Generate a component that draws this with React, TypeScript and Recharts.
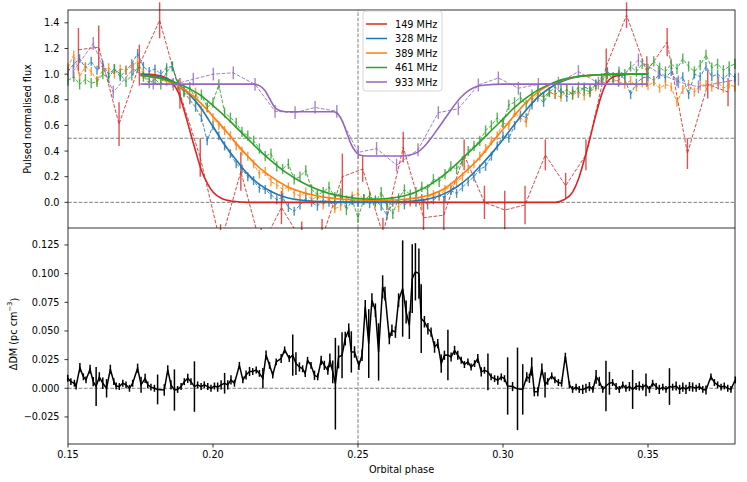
import { ComposedChart, Line, XAxis, YAxis, ReferenceLine, ErrorBar } from 'recharts';

// orbital phase grid of the 328 / 389 / 461 MHz profiles
const phaseGrid = [
  0.150, 0.152, 0.154, 0.156, 0.158, 0.160, 0.162, 0.164, 0.166, 0.168,
  0.170, 0.172, 0.174, 0.176, 0.178, 0.180, 0.182, 0.184, 0.186, 0.188,
  0.190, 0.192, 0.194, 0.196, 0.198, 0.200, 0.202, 0.204, 0.206, 0.208,
  0.210, 0.212, 0.214, 0.216, 0.218, 0.220, 0.222, 0.224, 0.226, 0.228,
  0.230, 0.232, 0.234, 0.236, 0.238, 0.240, 0.242, 0.244, 0.246, 0.248,
  0.250, 0.252, 0.254, 0.256, 0.258, 0.260, 0.262, 0.264, 0.266, 0.268,
  0.270, 0.272, 0.274, 0.276, 0.278, 0.280, 0.282, 0.284, 0.286, 0.288,
  0.290, 0.292, 0.294, 0.296, 0.298, 0.300, 0.302, 0.304, 0.306, 0.308,
  0.310, 0.312, 0.314, 0.316, 0.318, 0.320, 0.322, 0.324, 0.326, 0.328,
  0.330, 0.332, 0.334, 0.336, 0.338, 0.340, 0.342, 0.344, 0.346, 0.348,
  0.350, 0.352, 0.354, 0.356, 0.358, 0.360, 0.362, 0.364, 0.366, 0.368,
  0.370, 0.372, 0.374, 0.376, 0.378, 0.380,
];

const flux328 = [
  1.02, 1.08, 1.12, 1.05, 1.10, 1.03, 1.07, 1.00, 1.04, 0.98,
  1.03, 1.08, 1.16, 1.06, 1.02, 1.04, 1.00, 1.05, 1.06, 0.92,
  0.86, 0.80, 0.74, 0.66, 0.48, 0.60, 0.52, 0.44, 0.38, 0.30,
  0.26, 0.20, 0.17, 0.11, 0.10, 0.06, 0.02, 0.04, -0.04, -0.07,
  -0.02, 0.03, 0.00, -0.03, 0.02, 0.00, -0.02, 0.01, -0.01, 0.02,
  0.00, 0.03, -0.01, 0.02, -0.03, -0.10, 0.00, 0.02, -0.02, 0.01,
  0.00, 0.03, -0.02, 0.02, 0.05, 0.04, 0.09, 0.07, 0.12, 0.16,
  0.20, 0.26, 0.28, 0.36, 0.44, 0.52, 0.50, 0.60, 0.68, 0.66,
  0.76, 0.82, 0.78, 0.86, 0.84, 0.88, 0.82, 0.87, 0.85, 0.90,
  0.88, 0.92, 0.97, 1.02, 0.98, 1.00, 0.96, 0.84, 0.93, 0.97,
  0.98, 0.95, 1.00, 0.97, 1.02, 0.94, 0.98, 0.84, 1.00, 0.98,
  1.06, 0.98, 1.00, 0.96, 1.01, 0.97,
];

const flux389 = [
  1.05, 1.15, 0.98, 1.06, 1.02, 0.95, 1.03, 1.05, 1.00, 1.04,
  1.03, 1.06, 1.10, 1.00, 0.97, 0.99, 0.96, 0.94, 0.93, 0.90,
  0.88, 0.82, 0.86, 0.72, 0.74, 0.66, 0.60, 0.56, 0.52, 0.44,
  0.40, 0.36, 0.30, 0.22, 0.24, 0.16, 0.14, 0.10, 0.12, 0.07,
  0.05, 0.08, 0.02, 0.05, -0.02, 0.03, -0.05, -0.03, 0.02, 0.05,
  0.07, 0.02, 0.04, 0.00, 0.03, -0.02, 0.01, -0.04, 0.02, 0.00,
  0.02, -0.02, 0.04, 0.06, 0.05, 0.10, 0.12, 0.16, 0.20, 0.26,
  0.30, 0.36, 0.42, 0.48, 0.52, 0.62, 0.60, 0.70, 0.66, 0.62,
  0.80, 0.84, 0.82, 0.86, 0.84, 0.82, 0.88, 0.84, 0.86, 0.83,
  0.86, 0.90, 0.95, 1.00, 0.96, 0.94, 0.92, 0.95, 0.90, 0.93,
  0.91, 0.94, 0.89, 0.92, 0.90, 0.78, 0.88, 0.92, 0.86, 0.91,
  0.92, 0.90, 0.94, 0.89, 0.92, 0.90,
];

const flux461 = [
  0.95, 0.98, 0.92, 0.96, 0.93, 0.94, 1.00, 0.97, 1.04, 1.00,
  0.94, 0.99, 1.05, 0.98, 0.93, 0.96, 0.92, 1.02, 1.06, 0.92,
  0.86, 0.90, 0.80, 0.84, 0.74, 0.78, 0.92, 0.70, 0.66, 0.62,
  0.55, 0.52, 0.48, 0.42, 0.36, 0.38, 0.28, 0.26, 0.30, 0.18,
  0.20, 0.25, 0.10, 0.06, 0.08, 0.12, 0.04, 0.07, -0.06, 0.02,
  -0.12, 0.02, 0.05, 0.00, 0.08, -0.02, -0.09, 0.03, 0.10, 0.06,
  0.08, 0.12, 0.10, 0.18, 0.16, 0.22, 0.28, 0.26, 0.32, 0.40,
  0.44, 0.48, 0.56, 0.60, 0.66, 0.62, 0.76, 0.78, 0.82, 0.76,
  0.84, 0.88, 0.82, 0.86, 0.90, 0.85, 0.88, 0.84, 0.90, 0.88,
  0.86, 0.92, 0.96, 1.00, 0.97, 1.02, 1.00, 1.06, 1.02, 1.08,
  1.04, 1.10, 1.05, 1.02, 1.08, 1.04, 1.12, 1.06, 1.02, 1.07,
  1.15, 1.05, 1.08, 1.03, 1.06, 1.08,
];

const err328 = 0.035;
const err389 = 0.035;
const err461 = 0.04;

const phase149 = [
  0.1536, 0.1606, 0.1676, 0.1746, 0.1816, 0.1886, 0.1956, 0.2026, 0.2096, 0.2166,
  0.2236, 0.2306, 0.2376, 0.2446, 0.2516, 0.2586, 0.2656, 0.2726, 0.2796, 0.2866,
  0.2936, 0.3006, 0.3076, 0.3146, 0.3216, 0.3286, 0.3356, 0.3426, 0.3496, 0.3566,
  0.3636, 0.3706, 0.3776,
];
const flux149 = [
  1.19, 1.21, 0.61, 1.07, 1.42, 0.85, 0.35, -0.32, 0.24, -0.35,
  -0.04, -0.30, -0.28, 0.20, 0.26, -0.25, 0.43, -0.12, -0.10, 0.37,
  0.00, -0.06, -0.02, 0.37, 0.13, 0.37, 1.06, 1.46, 1.02, 1.25,
  0.38, 0.92, 0.86,
];
const err149 = [
  0.17, 0.17, 0.17, 0.16, 0.14, 0.12, 0.15, 0.15, 0.15, 0.15,
  0.13, 0.15, 0.15, 0.18, 0.10, 0.13, 0.12, 0.15, 0.15, 0.12,
  0.13, 0.15, 0.15, 0.12, 0.10, 0.12, 0.14, 0.10, 0.12, 0.11,
  0.12, 0.11, 0.11,
];

const phase933 = [
  0.1518, 0.1587, 0.1656, 0.1725, 0.1794, 0.1863, 0.1932, 0.2001, 0.2070, 0.2145,
  0.2214, 0.2283, 0.2352, 0.2427, 0.2501, 0.2564, 0.2633, 0.2707, 0.2777, 0.2846,
  0.2915, 0.2984, 0.3053, 0.3122, 0.3191, 0.3260, 0.3329, 0.3398, 0.3467, 0.3536,
  0.3605, 0.3674, 0.3743, 0.3812,
];
const flux933 = [
  1.02, 1.24, 0.86, 1.04, 0.93, 0.92, 0.96, 1.00, 1.01, 0.92,
  0.71, 0.70, 0.74, 0.71, 0.39, 0.42, 0.29, 0.41, 0.70, 0.73,
  0.915, 0.97, 0.89, 0.92, 0.93, 1.02, 0.93, 0.95, 1.11, 1.01,
  0.94, 0.90, 0.93, 0.96,
];
const err933 = 0.05;

// fitted eclipse models
const modelPhase = [
  0.175, 0.180, 0.184, 0.188, 0.192, 0.196, 0.200, 0.204, 0.208, 0.212,
  0.216, 0.220, 0.225, 0.230, 0.235, 0.240, 0.245, 0.250, 0.255, 0.260,
  0.265, 0.270, 0.275, 0.280, 0.284, 0.288, 0.292, 0.296, 0.300, 0.304,
  0.308, 0.312, 0.316, 0.320, 0.325, 0.330, 0.335, 0.340, 0.350,
];
const model328 = [
  0.995, 0.985, 0.965, 0.92, 0.84, 0.73, 0.59, 0.45, 0.33, 0.22,
  0.14, 0.085, 0.04, 0.018, 0.008, 0.004, 0.002, 0.001, 0.001, 0.002,
  0.005, 0.012, 0.03, 0.07, 0.12, 0.19, 0.28, 0.38, 0.49, 0.61,
  0.72, 0.82, 0.89, 0.94, 0.975, 0.99, 0.997, 1.0, 1.0,
];
const model389 = [
  0.99, 0.975, 0.95, 0.91, 0.85, 0.77, 0.67, 0.57, 0.46, 0.36,
  0.27, 0.20, 0.13, 0.085, 0.055, 0.035, 0.024, 0.018, 0.016, 0.017,
  0.022, 0.035, 0.06, 0.11, 0.18, 0.26, 0.35, 0.46, 0.57, 0.68,
  0.78, 0.86, 0.915, 0.95, 0.977, 0.99, 0.996, 1.0, 1.0,
];
const model461 = [
  0.99, 0.975, 0.955, 0.925, 0.885, 0.83, 0.755, 0.675, 0.585, 0.495,
  0.405, 0.325, 0.235, 0.165, 0.11, 0.07, 0.045, 0.03, 0.025, 0.03,
  0.045, 0.08, 0.14, 0.22, 0.30, 0.385, 0.47, 0.56, 0.65, 0.74,
  0.815, 0.875, 0.92, 0.955, 0.98, 0.99, 0.997, 1.0, 1.0,
];
const model149Phase = [
  0.175, 0.180, 0.184, 0.186, 0.188, 0.190, 0.192, 0.194, 0.196, 0.198,
  0.200, 0.203, 0.207, 0.212, 0.318, 0.321, 0.324, 0.326, 0.328, 0.330,
  0.332, 0.334, 0.336, 0.339, 0.344, 0.350,
];
const model149 = [
  1.0, 0.995, 0.97, 0.93, 0.86, 0.72, 0.56, 0.40, 0.25, 0.15,
  0.08, 0.03, 0.008, 0.0, 0.0, 0.02, 0.08, 0.18, 0.33, 0.50,
  0.68, 0.84, 0.94, 0.985, 1.0, 1.0,
];
const model933Phase = [
  0.175, 0.214, 0.216, 0.218, 0.2195, 0.221, 0.2225, 0.224, 0.226, 0.2415,
  0.243, 0.2445, 0.246, 0.2475, 0.249, 0.2505, 0.253, 0.265, 0.268, 0.2705,
  0.273, 0.2755, 0.278, 0.2805, 0.283, 0.2855, 0.288, 0.2905, 0.294, 0.300,
  0.350,
];
const model933 = [
  0.922, 0.922, 0.91, 0.87, 0.81, 0.75, 0.72, 0.71, 0.706, 0.706,
  0.69, 0.64, 0.55, 0.46, 0.40, 0.37, 0.362, 0.362, 0.37, 0.39,
  0.44, 0.51, 0.59, 0.67, 0.75, 0.82, 0.87, 0.90, 0.915, 0.922,
  0.922,
];

// dispersion measure excess
const dmPhase = [
  0.1499, 0.1510, 0.1522, 0.1528, 0.1541, 0.1553, 0.1562, 0.1576, 0.1587, 0.1597,
  0.1608, 0.1620, 0.1633, 0.1646, 0.1658, 0.1666, 0.1677, 0.1689, 0.1700, 0.1712,
  0.1723, 0.1740, 0.1752, 0.1766, 0.1775, 0.1786, 0.1798, 0.1809, 0.1832, 0.1844,
  0.1855, 0.1867, 0.1878, 0.1890, 0.1901, 0.1913, 0.1924, 0.1936, 0.1947, 0.1959,
  0.1970, 0.1982, 0.1993, 0.2005, 0.2016, 0.2028, 0.2040, 0.2051, 0.2062, 0.2074,
  0.2091, 0.2103, 0.2114, 0.2126, 0.2137, 0.2149, 0.2160, 0.2172, 0.2183, 0.2195,
  0.2206, 0.2218, 0.2235, 0.2247, 0.2263, 0.2275, 0.2286, 0.2298, 0.2309, 0.2318,
  0.2326, 0.2338, 0.2350, 0.2361, 0.2373, 0.2384, 0.2396, 0.2403, 0.2413, 0.2422,
  0.2433, 0.2445, 0.2456, 0.2468, 0.2477, 0.2488, 0.2503, 0.2514, 0.2525, 0.2537,
  0.2548, 0.2560, 0.2571, 0.2585, 0.2593, 0.2608, 0.2617, 0.2629, 0.2640, 0.2654,
  0.2666, 0.2677, 0.2687, 0.2698, 0.2710, 0.2718, 0.2729, 0.2741, 0.2752, 0.2764,
  0.2775, 0.2787, 0.2798, 0.2810, 0.2821, 0.2833, 0.2844, 0.2856, 0.2867, 0.2879,
  0.2890, 0.2902, 0.2913, 0.2925, 0.2936, 0.2948, 0.2959, 0.2971, 0.2982, 0.2994,
  0.3005, 0.3016, 0.3033, 0.3050, 0.3068, 0.3082, 0.3091, 0.3099, 0.3108, 0.3120,
  0.3134, 0.3145, 0.3154, 0.3168, 0.3179, 0.3191, 0.3202, 0.3215, 0.3229, 0.3240,
  0.3252, 0.3263, 0.3275, 0.3286, 0.3298, 0.3310, 0.3321, 0.3332, 0.3344, 0.3355,
  0.3367, 0.3378, 0.3390, 0.3401, 0.3413, 0.3424, 0.3436, 0.3447, 0.3459, 0.3470,
  0.3482, 0.3493, 0.3505, 0.3516, 0.3528, 0.3539, 0.3551, 0.3562, 0.3574, 0.3585,
  0.3597, 0.3609, 0.3620, 0.3631, 0.3643, 0.3654, 0.3666, 0.3677, 0.3689, 0.3700,
  0.3717, 0.3729, 0.3740, 0.3752, 0.3763, 0.3775, 0.3786, 0.3801,
];
const dmValue = [
  0.0087, 0.0058, 0.0044, 0.0020, 0.0180, 0.0100, 0.0073, 0.0166, 0.0058, 0.0015,
  0.0100, 0.0044, 0.0000, 0.0166, 0.0058, 0.0020, 0.0015, 0.0044, 0.0030, 0.0000,
  0.0044, 0.0175, 0.0030, 0.0087, 0.0030, 0.0010, 0.0000, -0.0010, -0.0015, 0.0160,
  0.0030, -0.0015, -0.0010, 0.0015, 0.0058, 0.0087, 0.0058, 0.0015, 0.0030, 0.0015,
  0.0030, 0.0015, 0.0000, 0.0020, 0.0010, 0.0030, 0.0044, 0.0030, 0.0073, 0.0044,
  0.0200, 0.0073, 0.0116, 0.0146, 0.0146, 0.0160, 0.0130, 0.0087, 0.0290, 0.0200,
  0.0116, 0.0230, 0.0260, 0.0335, 0.0260, 0.0290, 0.0215, 0.0186, 0.0170, 0.0128,
  0.0244, 0.0200, 0.0113, 0.0099, 0.0244, 0.0200, 0.0157, 0.0244, 0.0143, 0.0040,
  0.0273, 0.0288, 0.0434, 0.0506, 0.0317, 0.0317, 0.0200, 0.0288, 0.0710, 0.0390,
  0.0768, 0.0680, 0.0317, 0.0885, 0.0826, 0.0434, 0.0506, 0.0490, 0.0768, 0.0870,
  0.0666, 0.0550, 0.0957, 0.1016, 0.1000, 0.0608, 0.0580, 0.0520, 0.0490, 0.0360,
  0.0390, 0.0215, 0.0288, 0.0290, 0.0273, 0.0330, 0.0288, 0.0244, 0.0207, 0.0230,
  0.0186, 0.0215, 0.0260, 0.0143, 0.0157, 0.0143, 0.0099, 0.0084, 0.0070, 0.0099,
  0.0084, 0.0020, 0.0015, -0.0005, -0.0010, 0.0100, 0.0087, 0.0190, -0.0030, -0.0030,
  0.0166, 0.0030, 0.0060, 0.0108, 0.0073, 0.0050, 0.0044, 0.0280, 0.0030, -0.0010,
  0.0010, -0.0010, -0.0010, 0.0000, 0.0015, -0.0010, 0.0100, 0.0060, -0.0010, 0.0020,
  0.0044, 0.0050, 0.0015, -0.0010, 0.0030, 0.0000, 0.0015, -0.0010, 0.0015, 0.0020,
  0.0010, 0.0030, -0.0010, 0.0044, 0.0015, -0.0010, 0.0010, -0.0010, 0.0015, 0.0010,
  0.0020, -0.0010, 0.0010, -0.0010, 0.0015, 0.0010, 0.0000, 0.0015, -0.0010, -0.0015,
  0.0100, 0.0050, 0.0030, 0.0010, 0.0020, 0.0000, -0.0010, 0.0073,
];
const dmErr = [
  0.003, 0.003, 0.003, 0.003, 0.004, 0.003, 0.003, 0.004, 0.004, 0.017,
  0.004, 0.005, 0.008, 0.004, 0.003, 0.003, 0.003, 0.003, 0.003, 0.003,
  0.003, 0.004, 0.007, 0.004, 0.003, 0.003, 0.003, 0.013, 0.005, 0.004,
  0.004, 0.018, 0.003, 0.003, 0.003, 0.004, 0.003, 0.022, 0.003, 0.003,
  0.003, 0.003, 0.003, 0.003, 0.004, 0.004, 0.009, 0.004, 0.004, 0.003,
  0.003, 0.003, 0.004, 0.004, 0.003, 0.003, 0.003, 0.009, 0.004, 0.003,
  0.003, 0.003, 0.004, 0.003, 0.003, 0.018, 0.010, 0.004, 0.003, 0.003,
  0.003, 0.003, 0.004, 0.003, 0.004, 0.004, 0.004, 0.006, 0.010, 0.040,
  0.010, 0.020, 0.006, 0.006, 0.018, 0.005, 0.004, 0.005, 0.006, 0.030,
  0.006, 0.006, 0.025, 0.010, 0.006, 0.005, 0.005, 0.005, 0.006, 0.042,
  0.010, 0.012, 0.030, 0.025, 0.022, 0.030, 0.005, 0.005, 0.004, 0.005,
  0.004, 0.008, 0.004, 0.022, 0.004, 0.004, 0.004, 0.003, 0.003, 0.003,
  0.003, 0.003, 0.004, 0.004, 0.003, 0.016, 0.003, 0.003, 0.004, 0.003,
  0.003, 0.025, 0.004, 0.036, 0.022, 0.004, 0.004, 0.008, 0.004, 0.004,
  0.005, 0.011, 0.003, 0.003, 0.003, 0.003, 0.003, 0.003, 0.003, 0.003,
  0.003, 0.003, 0.004, 0.004, 0.004, 0.003, 0.006, 0.004, 0.003, 0.022,
  0.010, 0.003, 0.003, 0.003, 0.003, 0.003, 0.004, 0.017, 0.003, 0.004,
  0.003, 0.010, 0.003, 0.003, 0.003, 0.004, 0.003, 0.003, 0.016, 0.003,
  0.004, 0.004, 0.004, 0.004, 0.004, 0.004, 0.003, 0.003, 0.003, 0.004,
  0.003, 0.003, 0.003, 0.003, 0.003, 0.003, 0.003, 0.003,
];

const phaseTicks = [0.15, 0.2, 0.25, 0.3, 0.35];
const fluxTicks = [-0.2, 0, 0.2, 0.4, 0.6, 0.8, 1.0, 1.2, 1.4];
const dmTicks = [-0.025, 0, 0.025, 0.05, 0.075, 0.1, 0.125];

const bands = [
  { label: '149 MHz', color: '#d62728' },
  { label: '328 MHz', color: '#1f77b4' },
  { label: '389 MHz', color: '#ff7f0e' },
  { label: '461 MHz', color: '#2ca02c' },
  { label: '933 MHz', color: '#9467bd' },
];

const FONT = 'DejaVu Sans, sans-serif';
const TICK = { fontSize: 9.7, fill: '#000', fontFamily: FONT };

function rows(xs: number[], ys: number[], err?: number | number[]) {
  return xs.map((x, i) => ({
    x,
    y: ys[i],
    e: typeof err === 'number' ? err : err ? err[i] : 0,
  }));
}

const minus = (s: string) => s.replace('-', '\u2212');

const dataSeries = [
  { rows: rows(phase149, flux149, err149), color: bands[0].color },
  { rows: rows(phaseGrid, flux328, err328), color: bands[1].color },
  { rows: rows(phaseGrid, flux389, err389), color: bands[2].color },
  { rows: rows(phaseGrid, flux461, err461), color: bands[3].color },
  { rows: rows(phase933, flux933, err933), color: bands[4].color },
];

const modelSeries = [
  { rows: rows(model149Phase, model149), color: bands[0].color },
  { rows: rows(modelPhase, model328), color: bands[1].color },
  { rows: rows(modelPhase, model389), color: bands[2].color },
  { rows: rows(modelPhase, model461), color: bands[3].color },
  { rows: rows(model933Phase, model933), color: bands[4].color },
];

const dmRows = rows(dmPhase, dmValue, dmErr);

export default function App() {
  return (
    <div style={{ position: 'absolute', left: 0, top: 0, width: 747, height: 482, background: '#fff' }}>
      <div style={{ position: 'absolute', left: 0, top: 0 }}>
        <ComposedChart width={747} height={230} margin={{ top: 10, right: 12, bottom: 0, left: 0 }}>
          <XAxis
            type="number"
            dataKey="x"
            domain={[0.15, 0.38]}
            allowDataOverflow
            ticks={phaseTicks}
            tick={false}
            tickSize={-3.5}
            height={2}
            axisLine={false}
            tickLine={{ stroke: '#000', strokeWidth: 0.8 }}
          />
          <YAxis
            type="number"
            domain={[-0.2, 1.5]}
            allowDataOverflow
            ticks={fluxTicks}
            tickFormatter={(v: number) => minus(v.toFixed(1))}
            width={68}
            tickSize={3.5}
            tickMargin={5}
            tick={TICK}
            axisLine={false}
            tickLine={{ stroke: '#000', strokeWidth: 0.8 }}
          />
          <ReferenceLine y={0.5} stroke="#808080" strokeDasharray="3.7 1.6" />
          <ReferenceLine y={0} stroke="#808080" strokeDasharray="3.7 1.6" />
          <ReferenceLine x={0.25} stroke="#808080" strokeDasharray="3.7 1.6" />
          {dataSeries.map((s, i) => (
            <Line
              key={'d' + i}
              data={s.rows}
              dataKey="y"
              stroke={s.color}
              strokeWidth={1}
              strokeOpacity={0.85}
              strokeDasharray="3.7 1.6"
              dot={false}
              activeDot={false}
              isAnimationActive={false}
            >
              <ErrorBar
                dataKey="e"
                direction="y"
                width={0}
                stroke={s.color}
                strokeWidth={1.4}
                strokeOpacity={0.8}
                isAnimationActive={false}
              />
            </Line>
          ))}
          {modelSeries.map((s, i) => (
            <Line
              key={'m' + i}
              data={s.rows}
              dataKey="y"
              type="monotone"
              stroke={s.color}
              strokeWidth={1.6}
              dot={false}
              activeDot={false}
              isAnimationActive={false}
            />
          ))}
        </ComposedChart>
      </div>

      <div style={{ position: 'absolute', left: 0, top: 228 }}>
        <ComposedChart width={747} height={254} margin={{ top: 0, right: 12, bottom: 0, left: 0 }}>
          <XAxis
            type="number"
            dataKey="x"
            domain={[0.15, 0.38]}
            allowDataOverflow
            ticks={phaseTicks}
            tickFormatter={(v: number) => v.toFixed(2)}
            height={38}
            tickSize={3.5}
            tickMargin={4}
            tick={TICK}
            axisLine={false}
            tickLine={{ stroke: '#000', strokeWidth: 0.8 }}
          />
          <YAxis
            type="number"
            domain={[-0.0486, 0.1398]}
            allowDataOverflow
            ticks={dmTicks}
            tickFormatter={(v: number) => minus(v.toFixed(3))}
            width={68}
            tickSize={3.5}
            tickMargin={5}
            tick={TICK}
            axisLine={false}
            tickLine={{ stroke: '#000', strokeWidth: 0.8 }}
          />
          <ReferenceLine y={0} stroke="#808080" strokeDasharray="3.7 1.6" />
          <ReferenceLine x={0.25} stroke="#808080" strokeDasharray="3.7 1.6" />
          <Line
            data={dmRows}
            dataKey="y"
            stroke="#000"
            strokeWidth={1.5}
            dot={false}
            activeDot={false}
            isAnimationActive={false}
          >
            <ErrorBar dataKey="e" direction="y" width={0} stroke="#000" strokeWidth={1.5} isAnimationActive={false} />
          </Line>
        </ComposedChart>
      </div>

      <svg
        width={747}
        height={482}
        style={{ position: 'absolute', left: 0, top: 0, pointerEvents: 'none' }}
        fontFamily={FONT}
      >
        <rect x={68} y={10} width={667} height={434} fill="none" stroke="#000" strokeWidth={0.8} />
        <line x1={68} x2={735} y1={228} y2={228} stroke="#000" strokeWidth={0.8} />
        <text
          x={27.5}
          y={119}
          fontSize={9.7}
          textAnchor="middle"
          dominantBaseline="central"
          transform="rotate(-90 27.5 119)"
        >
          Pulsed normalised flux
        </text>
        <text
          x={13.5}
          y={334}
          fontSize={9.7}
          textAnchor="middle"
          dominantBaseline="central"
          transform="rotate(-90 13.5 334)"
        >
          ΔDM (pc cm<tspan dy={-3.5} fontSize={6.8}>−3</tspan>
          <tspan dy={3.5}>)</tspan>
        </text>
        <text x={401.5} y={472.5} fontSize={9.7} textAnchor="middle">
          Orbital phase
        </text>

        <rect x={363} y={11} width={79} height={80} rx={3} fill="#fff" fillOpacity={0.8} stroke="#cccccc" strokeWidth={0.8} />
        {bands.map((b, i) => (
          <g key={b.label}>
            <line x1={366} x2={387} y1={24 + i * 14.5} y2={24 + i * 14.5} stroke={b.color} strokeWidth={1.5} />
            <text x={395} y={24 + i * 14.5} fontSize={9.7} dominantBaseline="central">
              {b.label}
            </text>
          </g>
        ))}
      </svg>
    </div>
  );
}
